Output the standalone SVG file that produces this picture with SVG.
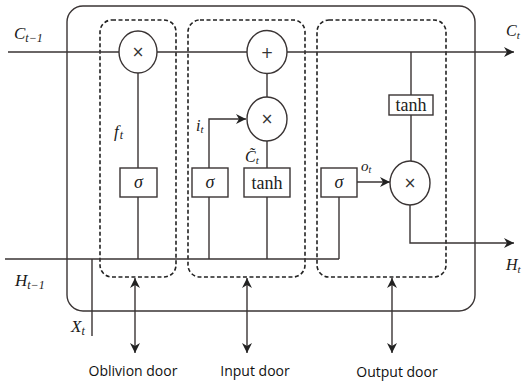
<svg xmlns="http://www.w3.org/2000/svg" width="523" height="381" viewBox="0 0 523 381">
<style>
.ln{stroke:#3a3434;stroke-width:1.4;fill:none}
.dash{stroke:#222;stroke-width:1.6;fill:none;stroke-dasharray:4 2.5}
.box{stroke:#3a3434;stroke-width:1.4;fill:#fff}
.op{font-family:"DejaVu Sans",sans-serif;font-size:15px;fill:#333;text-anchor:middle}
.mi{font-family:"Liberation Serif",serif;font-style:italic;fill:#1a1a1a}
.fn{font-family:"Liberation Serif",serif;font-size:18px;fill:#222;text-anchor:middle}
.lab{font-family:"Open Sans","Liberation Sans",sans-serif;font-size:14px;fill:#111;text-anchor:middle}
</style>
<defs>
<marker id="ah" viewBox="0 0 10 10" refX="10" refY="5" markerWidth="10" markerHeight="10" markerUnits="userSpaceOnUse" orient="auto-start-reverse">
<path d="M0,0 L10,5 L0,10 L3,5 z" fill="#222"/>
</marker>
</defs>
<rect id="cell" x="67" y="6" width="408" height="305" rx="16" class="ln"/>
<g id="oblivion-group"><rect x="100" y="20" width="76" height="257" rx="12" class="dash"/></g>
<g id="input-group"><rect x="188" y="20" width="117" height="257" rx="12" class="dash"/></g>
<g id="output-group"><rect x="317" y="20" width="129" height="257" rx="12" class="dash"/></g>
<g id="connectors">
<path class="ln" d="M8,52 H119 M157,52 H247"/>
<path class="ln" d="M287,52 H514" marker-end="url(#ah)"/>
<path class="ln" d="M5,259 H339 M92,259 V336"/>
<path class="ln" d="M138,73 V168 M138,197 V259"/>
<path class="ln" d="M267,73.5 V97 M267,141 V168 M267,197 V259"/>
<path class="ln" d="M209,259 V197 M209,168 V119 H246" marker-end="url(#ah)"/>
<path class="ln" d="M339,259 V197"/>
<path class="ln" d="M357,182 H390" marker-end="url(#ah)"/>
<path class="ln" d="M411,52 V95 M411,115 V161"/>
<path class="ln" d="M410,205 V243 H514" marker-end="url(#ah)"/>
<path class="ln" d="M135,278 V353" marker-start="url(#ah)" marker-end="url(#ah)"/>
<path class="ln" d="M247,278 V353" marker-start="url(#ah)" marker-end="url(#ah)"/>
<path class="ln" d="M392,278 V353" marker-start="url(#ah)" marker-end="url(#ah)"/>
</g>
<g id="forget-mul"><ellipse cx="138" cy="52" rx="19" ry="21" class="box"/><text x="138" y="57" class="op">×</text></g>
<g id="add"><ellipse cx="267" cy="52" rx="20" ry="21.5" class="box"/><text x="267" y="57.5" class="op">+</text></g>
<g id="input-mul"><ellipse cx="267" cy="119" rx="20" ry="22" class="box"/><text x="267" y="124" class="op">×</text></g>
<g id="output-mul"><ellipse cx="410" cy="183" rx="20" ry="22" class="box"/><text x="410" y="188" class="op">×</text></g>
<g id="forget-sigma"><rect x="120" y="168" width="37" height="29" class="box"/><text x="138.5" y="188" class="fn" font-style="italic">σ</text></g>
<g id="input-sigma"><rect x="192" y="168" width="36" height="29" class="box"/><text x="210" y="188" class="fn" font-style="italic">σ</text></g>
<g id="input-tanh"><rect x="244" y="168" width="46" height="29" class="box"/><text x="267" y="189" class="fn">tanh</text></g>
<g id="output-sigma"><rect x="321" y="168" width="36" height="29" class="box"/><text x="339" y="188" class="fn" font-style="italic">σ</text></g>
<g id="output-tanh"><rect x="389" y="95" width="44" height="20" class="box"/><text x="411" y="111" class="fn">tanh</text></g>
<text class="mi" x="14" y="39" font-size="17">C<tspan font-size="12" dy="3">t−1</tspan></text>
<text class="mi" x="506" y="36" font-size="16">C<tspan font-size="11" dy="3">t</tspan></text>
<text class="mi" x="15" y="286" font-size="17">H<tspan font-size="12" dy="3">t−1</tspan></text>
<text class="mi" x="506" y="270" font-size="16">H<tspan font-size="11" dy="3">t</tspan></text>
<text class="mi" x="71" y="332" font-size="17">X<tspan font-size="12" dy="3">t</tspan></text>
<text class="mi" x="114" y="137" font-size="17">f<tspan font-size="12" dy="2" dx="1">t</tspan></text>
<text class="mi" x="196" y="131" font-size="16">i<tspan font-size="11" dy="2">t</tspan></text>
<text class="mi" x="245" y="162" font-size="16">C&#771;<tspan font-size="11" dy="2">t</tspan></text>
<text class="mi" x="361" y="171" font-size="15">o<tspan font-size="10" dy="2">t</tspan></text>
<text class="lab" x="133" y="376">Oblivion door</text>
<text class="lab" x="255" y="376">Input door</text>
<text class="lab" x="397" y="377">Output door</text>
</svg>
